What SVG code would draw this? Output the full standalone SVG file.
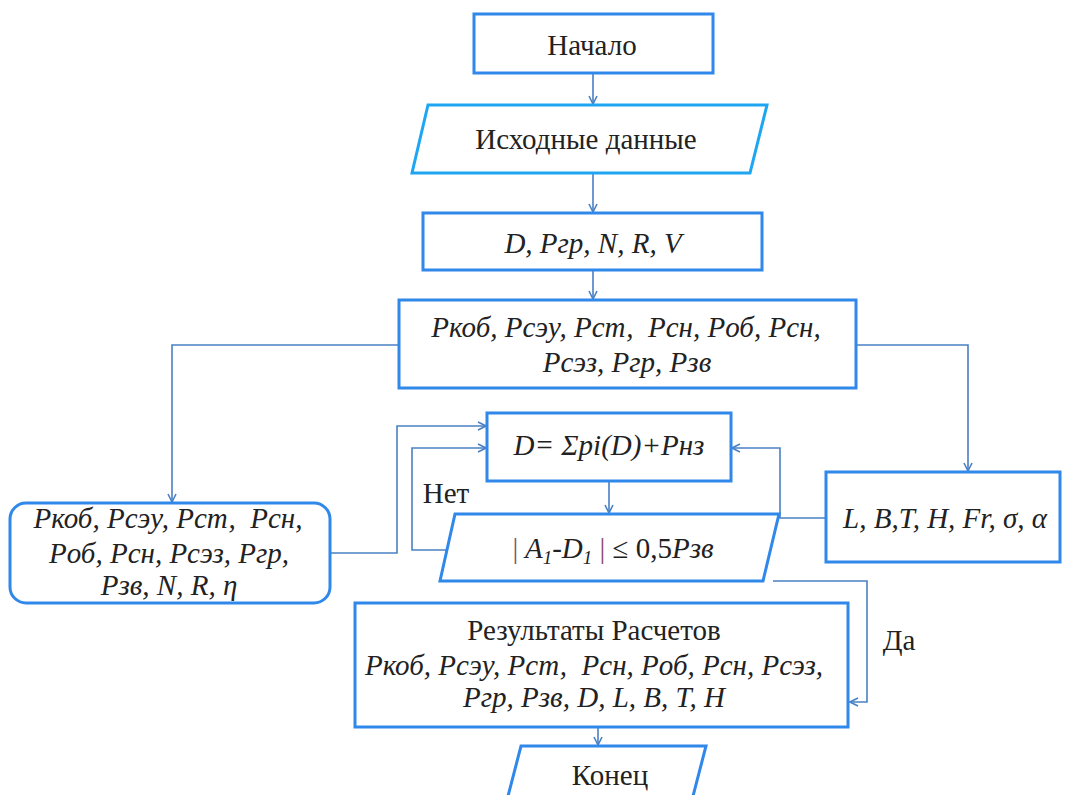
<svg xmlns="http://www.w3.org/2000/svg" width="1073" height="795" viewBox="0 0 1073 795">
  <style>
    .box { fill: #ffffff; stroke: #2f88ea; stroke-width: 3; }
    .io { fill: #ffffff; stroke: #1fa6f2; stroke-width: 3; }
    .wire { fill: none; stroke: #4a80c4; stroke-width: 1.6; }
  </style>
  <defs>
    <marker id="arrow" viewBox="0 0 10 10" refX="9" refY="5" markerWidth="10" markerHeight="10" markerUnits="userSpaceOnUse" orient="auto">
      <path d="M1,1 L9,5 L1,9" fill="none" stroke="#4a80c4" stroke-width="1.6"/>
    </marker>
  </defs>

  <rect width="1073" height="795" fill="#ffffff"/>

  <!-- connectors -->
  <g id="connectors">
    <path class="wire" d="M593,73 V104" marker-end="url(#arrow)"/>
    <path class="wire" d="M593,173 V212" marker-end="url(#arrow)"/>
    <path class="wire" d="M593,270 V299" marker-end="url(#arrow)"/>
    <path class="wire" d="M399,345 H172 V502" marker-end="url(#arrow)"/>
    <path class="wire" d="M856,345 H968 V471" marker-end="url(#arrow)"/>
    <path class="wire" d="M330,553 H397 V426 H486" marker-end="url(#arrow)"/>
    <path class="wire" d="M447,550 H412 V448 H486" marker-end="url(#arrow)"/>
    <path class="wire" d="M609,481 V513" marker-end="url(#arrow)"/>
    <path class="wire" d="M826,518 H780 V448 H732" marker-end="url(#arrow)"/>
    <path class="wire" d="M773,581 H867 V702 H850" marker-end="url(#arrow)"/>
    <path class="wire" d="M598,727 V745" marker-end="url(#arrow)"/>
  </g>

  <g font-family="Times New Roman, serif" font-size="29" fill="#222222" text-anchor="middle">
    <g id="start">
      <rect class="box" x="474" y="14" width="239" height="59"/>
      <text x="592" y="55">Начало</text>
    </g>
    <g id="input">
      <polygon class="io" points="428,105 767,105 750,173 412,173"/>
      <text x="586" y="149">Исходные данные</text>
    </g>
    <g id="params">
      <rect class="box" x="423" y="213" width="339" height="57"/>
      <text x="593" y="253" font-style="italic">D, Pгр, N, R, V</text>
    </g>
    <g id="loads">
      <rect class="box" x="399" y="300" width="457" height="88"/>
      <text x="626" y="337" font-style="italic" xml:space="preserve">Pкоб, Pсэу, Pст,  Pсн, Pоб, Pсн,</text>
      <text x="627" y="372" font-style="italic">Pсэз, Pгр, Pзв</text>
    </g>
    <g id="loads-left">
      <rect class="box" x="10" y="503" width="320" height="100" rx="16" ry="16"/>
      <text x="168" y="528" font-style="italic" xml:space="preserve">Pкоб, Pсэу, Pст,  Pсн,</text>
      <text x="169" y="563" font-style="italic">Pоб, Pсн, Pсэз, Pгр,</text>
      <text x="169" y="595" font-style="italic">Pзв, N, R, η</text>
    </g>
    <g id="displacement">
      <rect class="box" x="487" y="413" width="244" height="68"/>
      <text x="609" y="455" font-style="italic">D= Σpi(D)+Pнз</text>
    </g>
    <g id="check">
      <polygon class="box" points="455,514 779,514 763,581 440,581"/>
      <text x="613" y="558" font-style="italic"><tspan fill="#8a4a6a" font-style="normal">|</tspan> A<tspan font-size="19" dy="6">1</tspan><tspan dy="-6">-D</tspan><tspan font-size="19" dy="6">1</tspan><tspan dy="-6" fill="#8a4a6a" font-style="normal"> |</tspan><tspan font-style="normal"> ≤ 0,5</tspan>Pзв</text>
    </g>
    <g id="hull">
      <rect class="box" x="826" y="472" width="234" height="90"/>
      <text x="945" y="528" font-style="italic">L, B,T, H, Fr, σ, α</text>
    </g>
    <g id="results">
      <rect class="box" x="355" y="603" width="493" height="124"/>
      <text x="594" y="640">Результаты Расчетов</text>
      <text x="594" y="675" font-style="italic" xml:space="preserve">Pкоб, Pсэу, Pст,  Pсн, Pоб, Pсн, Pсэз,</text>
      <text x="594" y="707" font-style="italic">Pгр, Pзв, D, L, B, T, H</text>
    </g>
    <g id="end">
      <polygon class="box" points="521,746 706,746 692,800 507,800"/>
      <text x="610" y="785">Конец</text>
    </g>
    <g id="labels">
      <text x="446" y="503">Нет</text>
      <text x="899" y="650">Да</text>
    </g>
  </g>
</svg>
